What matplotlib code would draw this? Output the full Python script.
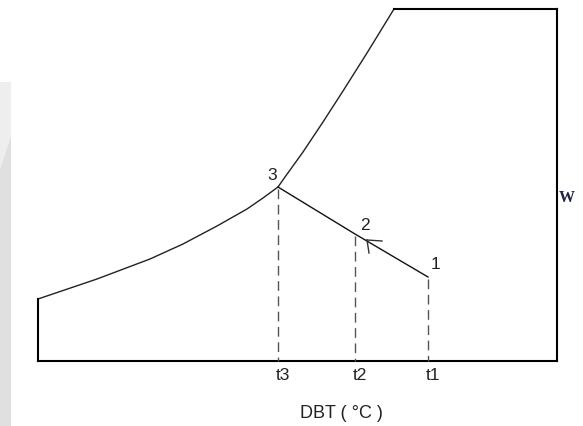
import matplotlib.pyplot as plt
from matplotlib.patches import Polygon

# Saturation curve (DBT, W) in chart units (pixel-like, y grows downward)
sat_dbt = [38, 97, 150, 183, 217, 247, 263, 278, 285, 303, 323, 343, 367, 394]
sat_w = [300, 280, 260, 245, 227, 210, 199, 188, 178, 153, 123, 92, 54, 10]

# Chart frame
x_min, x_max = 38, 557
w_bottom, w_top = 362, 10

# Process states 1 -> 2 -> 3
state_labels = ['1', '2', '3']
state_dbt = [428, 355, 278]
state_w = [278, 235, 188]
tick_labels = ['t1', 't2', 't3']

fig = plt.figure(figsize=(5.83, 4.27), dpi=100)
ax = fig.add_axes([0, 0, 1, 1])
ax.set_xlim(0, 583)
ax.set_ylim(427, 0)
ax.axis('off')

# faint gray band on the left edge
ax.add_patch(Polygon([[0, 83], [11, 83], [11, 137], [0, 170]], closed=True,
                     facecolor='#eeeeee', edgecolor='none'))
ax.add_patch(Polygon([[0, 170], [11, 137], [11, 427], [0, 427]], closed=True,
                     facecolor='#e0e0e0', edgecolor='none'))

# saturation curve
ax.plot(sat_dbt, sat_w, color='#222222', lw=1.0, solid_joinstyle='round')

# frame: left edge, bottom, right, top
ax.plot([x_min, x_min], [sat_w[0], w_bottom], color='black', lw=1.5)
ax.plot([x_min, x_max], [w_bottom, w_bottom], color='black', lw=1.5)
ax.plot([x_max, x_max], [w_bottom, w_top], color='black', lw=1.5)
ax.plot([sat_dbt[-1], x_max], [w_top, w_top], color='black', lw=1.5)

# process line
ax.plot(state_dbt, state_w, color='#111111', lw=1.0)

# dashed drop lines
for x, y in zip(state_dbt, state_w):
    ax.plot([x, x], [y + 2, w_bottom], color='#555555', lw=1.0,
            dashes=(7, 4))

# small arrowhead on the process line (pointing from 1 towards 2)
ax_tip = (state_dbt[1] + 12, state_w[1] + 6)
ax.plot([ax_tip[0], ax_tip[0] + 15], [ax_tip[1], ax_tip[1] + 1],
        color='#333333', lw=1.0)
ax.plot([ax_tip[0], ax_tip[0] + 2], [ax_tip[1], ax_tip[1] + 13],
        color='#333333', lw=1.0)

# state numbers
offsets = [(8, -13), (10, -9), (-6, -12)]
for lab, x, y, (dx, dy) in zip(state_labels, state_dbt, state_w, offsets):
    ax.text(x + dx, y + dy, lab, fontsize=12.5, family='Liberation Sans',
            color='#222222', ha='center', va='center')

# t labels under the axis
for lab, x in zip(tick_labels, state_dbt):
    ax.text(x + 5, 376, lab, fontsize=12.5, family='Liberation Sans',
            color='#222222', ha='center', va='center')

ax.text(341, 414, 'DBT ( °C )', fontsize=13, family='Liberation Sans',
        color='#222222', ha='center', va='center')
ax.text(567, 198, 'W', fontsize=11.5, family='Liberation Serif',
        fontweight='bold', color='#222244', ha='center', va='center')

fig.savefig('out.png', dpi=100)
